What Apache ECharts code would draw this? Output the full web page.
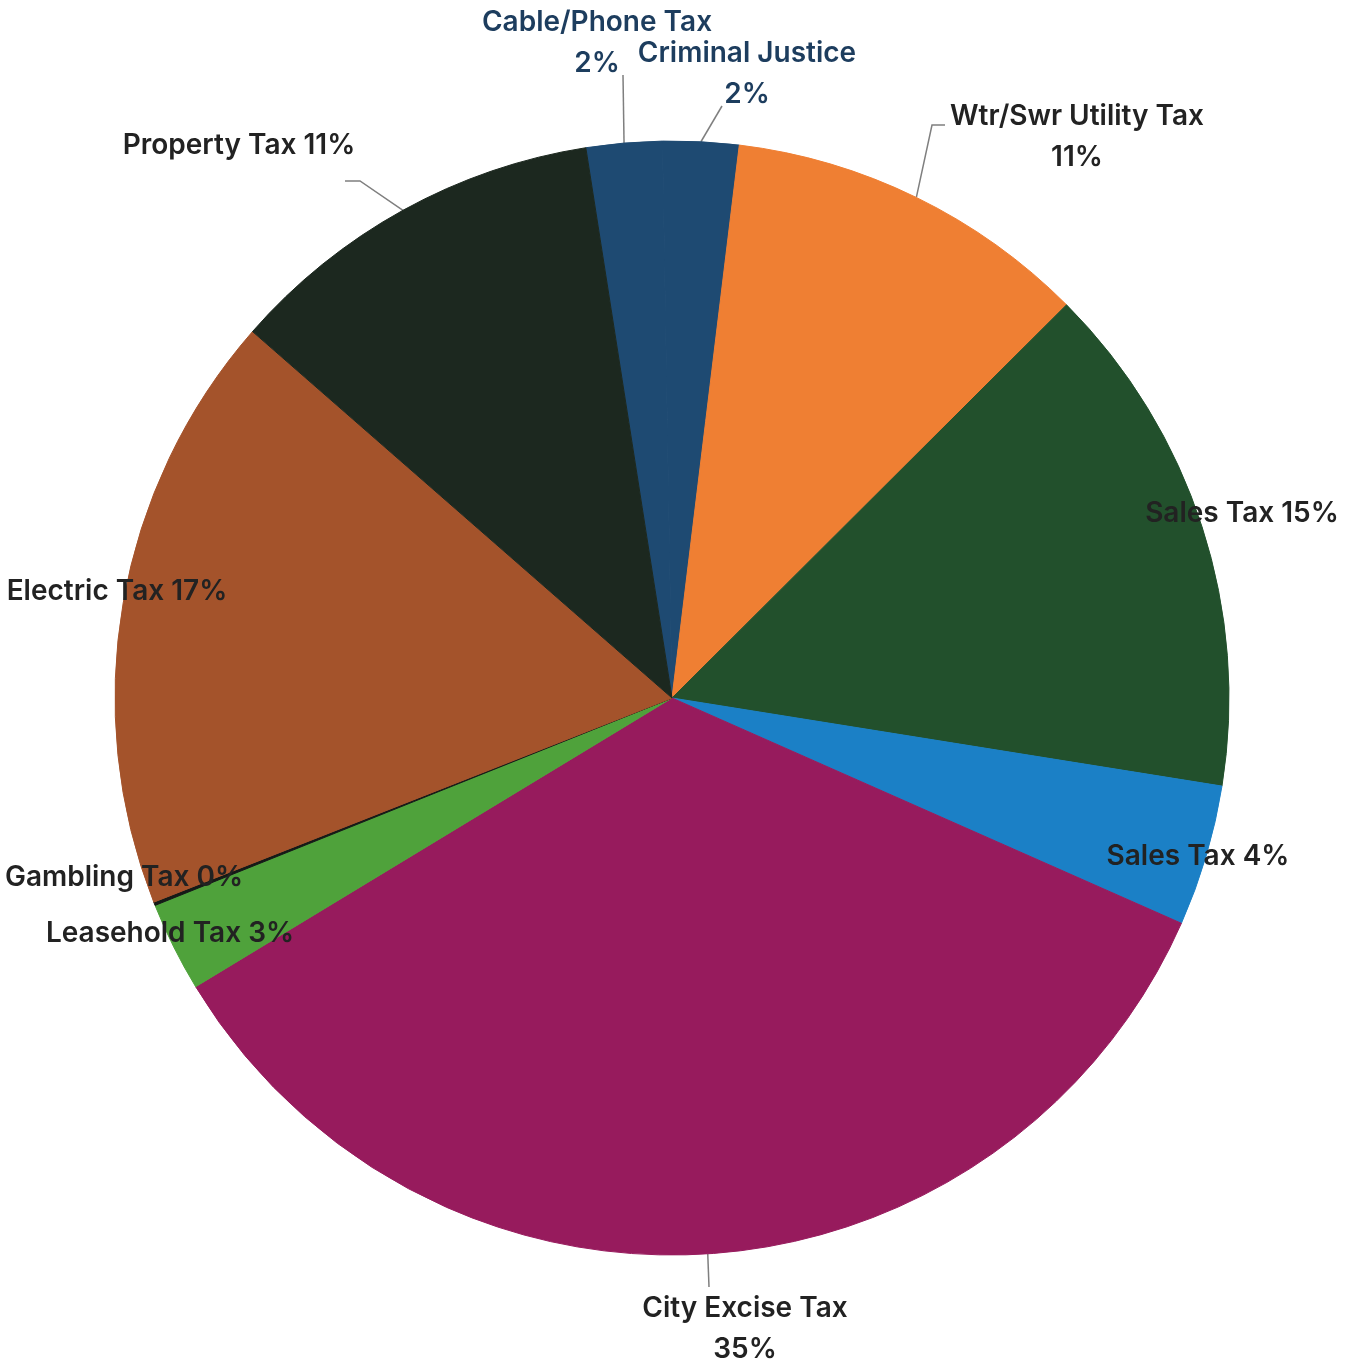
<!DOCTYPE html>
<html>
<head>
<meta charset="utf-8">
<script src="https://cdn.jsdelivr.net/npm/echarts@6/dist/echarts.min.js"></script>
<style>
    html, body { margin: 0; padding: 0; background: #fff; }
    #chart { width: 1354px; height: 1366px; }
</style>
</head>
<body>
<div id="chart"></div>
<script>
// Slices in clockwise order, starting just left of 12 o'clock
const categories = ['Cable/Phone Tax', 'Criminal Justice', 'Wtr/Swr Utility Tax', 'Sales Tax', 'Sales Tax',
    'City Excise Tax', 'Leasehold Tax', 'Gambling Tax', 'Electric Tax', 'Property Tax'];
const values = [2.2, 2.2, 10.6, 15.0, 4.1, 34.7, 2.6, 0.1, 17.4, 11.1];
const colors = ['#1e4a72', '#1e4a72', '#ef7f33', '#22502c', '#1b80c6',
    '#971b5d', '#4fa23b', '#151a17', '#a4532b', '#1c281f'];

// where Excel put each label (centre of the text block) and the bend points of its leader
const labelSpots = [
    { x: 597, y: 43, twoLine: true, color: '#1d3d5e', line: [[623, 75], [623, 75]] },
    { x: 747, y: 74, twoLine: true, color: '#1d3d5e', line: [[722, 106], [722, 106]] },
    { x: 1077, y: 137, twoLine: true, line: [[932, 125], [945, 125]] },
    { x: 1242, y: 514 },
    { x: 1198, y: 857 },
    { x: 745, y: 1329, twoLine: true, line: [[709, 1287], [709, 1287]] },
    { x: 170, y: 934 },
    { x: 124, y: 878 },
    { x: 117, y: 592 },
    { x: 239, y: 146, line: [[360, 181], [345, 181]] }
];

window.onload = function () {
    const chart = echarts.init(document.getElementById('chart'));

    const data = categories.map((name, i) => ({
        name: name,
        value: values[i],
        itemStyle: { color: colors[i], borderColor: colors[i] },
        label: {
            formatter: labelSpots[i].twoLine ? '{b}\n{d}%' : '{b} {d}%',
            color: labelSpots[i].color || '#222222'
        },
        labelLine: { show: !!labelSpots[i].line }
    }));

    const option = {
        animation: false,
        series: [{
            type: 'pie',
            center: [672, 698],
            radius: 557,
            startAngle: 98.9,
            clockwise: true,
            percentPrecision: 0,
            silent: true,
            data: data,
            itemStyle: {
                borderWidth: 1
            },
            label: {
                show: true,
                position: 'outside',
                overflow: 'none',
                fontFamily: 'Inter',
                fontWeight: 600,
                fontSize: 28,
                lineHeight: 41,
                align: 'center'
            },
            labelLine: {
                show: true,
                length: 20,
                length2: 10,
                lineStyle: { color: '#7f7f7f', width: 1.5 }
            },
            labelLayout: function (params) {
                const spot = labelSpots[params.dataIndex];
                const res = { x: spot.x, y: spot.y, align: 'center', verticalAlign: 'middle', width: 400 };
                if (spot.line && params.labelLinePoints) {
                    res.labelLinePoints = [params.labelLinePoints[0]].concat(spot.line);
                }
                return res;
            }
        }]
    };

    chart.setOption(option);
};
</script>
</body>
</html>
